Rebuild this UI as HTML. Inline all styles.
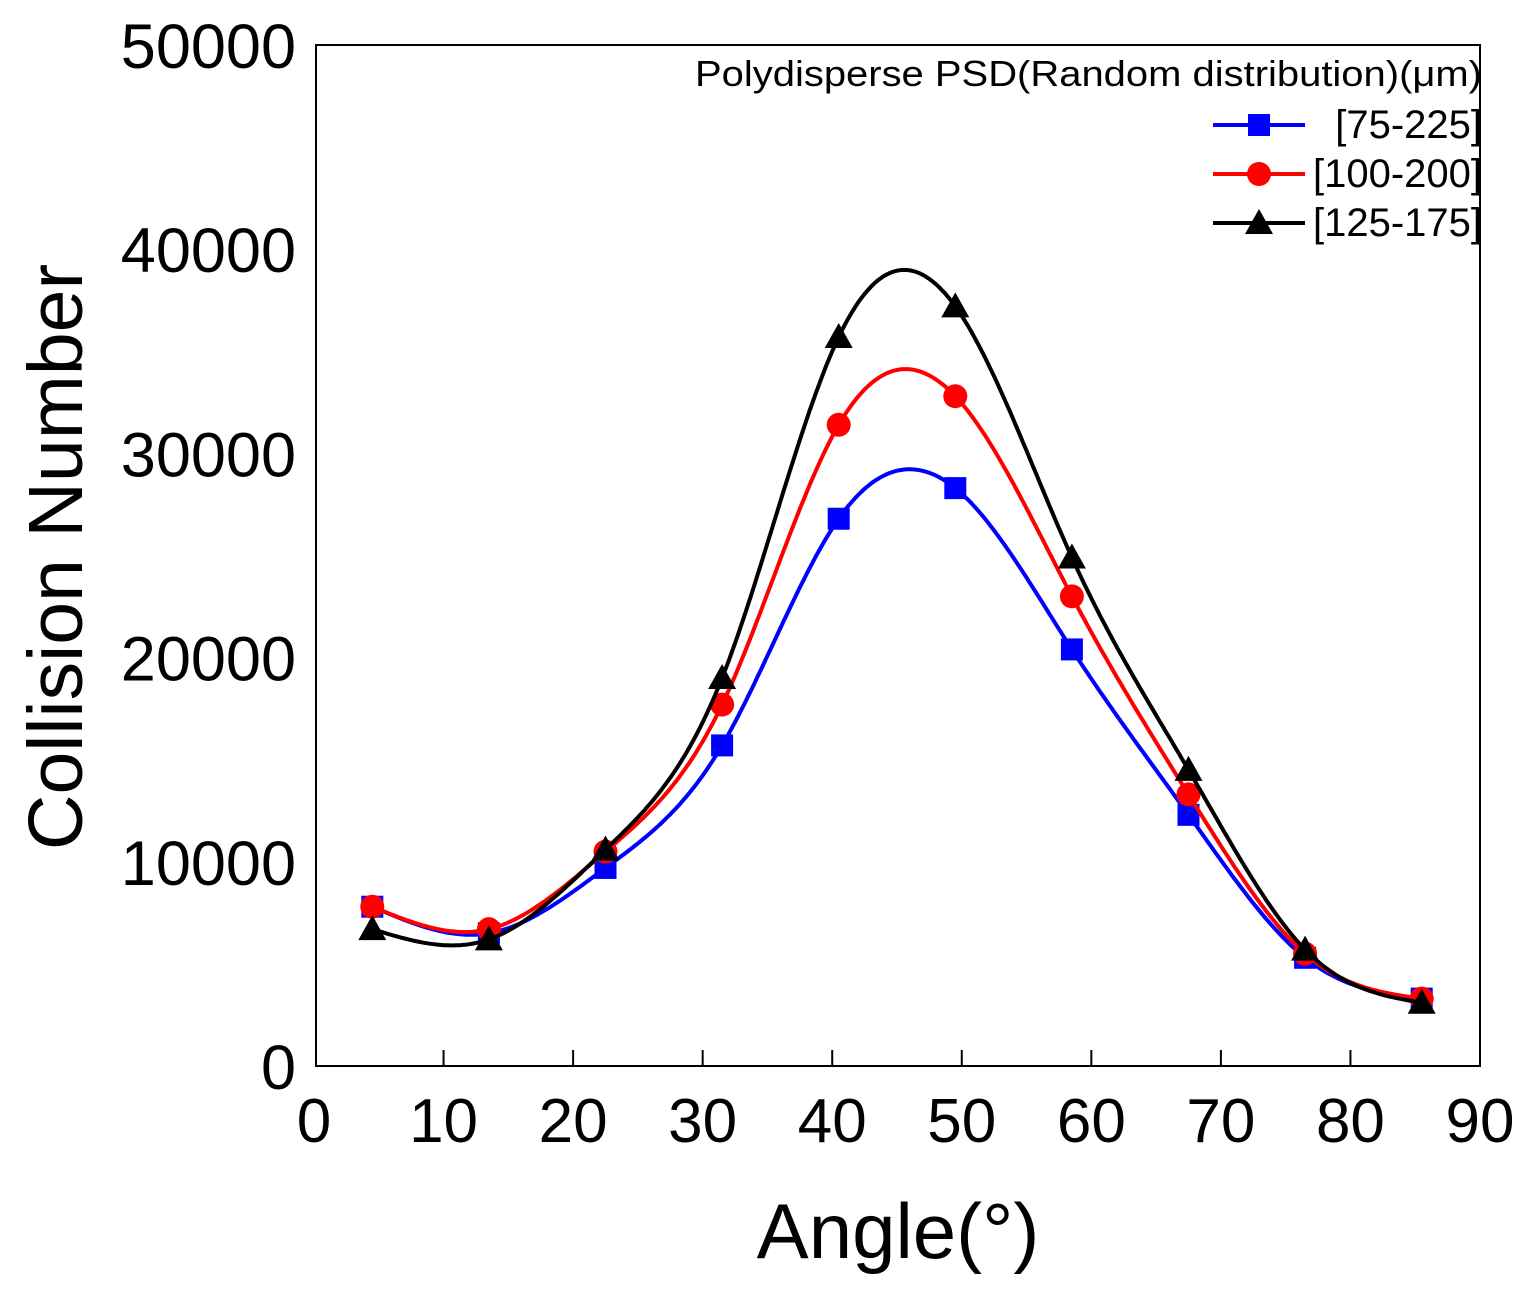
<!DOCTYPE html>
<html><head><meta charset="utf-8"><style>
html,body{margin:0;padding:0;background:#fff;}
svg{display:block;font-family:"Liberation Sans",Arial,sans-serif;}
</style></head><body>
<svg id="chart" width="1533" height="1297" viewBox="0 0 1533 1297">
<rect x="316" y="45" width="1164" height="1021" fill="none" stroke="#000" stroke-width="2"/>
<g id="xticks"></g>
<g id="yticks"></g>
<g id="series"></g>
<text x="82" y="557" font-size="77" text-anchor="middle" transform="rotate(-90 82 557)">Collision Number</text>
<text x="898" y="1258" font-size="78" text-anchor="middle">Angle(°)</text>
<g>
<text x="1482" y="86" font-size="36" text-anchor="end" textLength="787" lengthAdjust="spacingAndGlyphs">Polydisperse PSD(Random distribution)(μm)</text>
<g id="legend-entries"></g>
</g>
</svg>
<script>
const angles=[4.5,13.5,22.5,31.5,40.5,49.5,58.5,67.5,76.5,85.5];
const s75=[7800,6500,9700,15700,26800,28300,20400,12300,5300,3300];
const s100=[7800,6700,10500,17700,31400,32800,23000,13300,5500,3300];
const s125=[6700,6200,10600,19000,35700,37200,24900,14500,5700,3100];
const seriesNames=["[75-225]","[100-200]","[125-175]"];
const xTicks=[0,10,20,30,40,50,60,70,80,90];
const yTicks=[0,10000,20000,30000,40000,50000];
const X=v=>314+v*(1480-314)/90;
const Y=v=>1066-v*(1066-45)/50000;
const NS="http://www.w3.org/2000/svg";
function mk(tag,attrs,parent){const e=document.createElementNS(NS,tag);for(const k in attrs)e.setAttribute(k,attrs[k]);parent.appendChild(e);return e;}
const xg=document.getElementById('xticks'),yg=document.getElementById('yticks');
xTicks.forEach(t=>{
 if(t>0&&t<90){const l=mk('line',{x1:X(t),x2:X(t),y1:1066,y2:1050,stroke:'#000','stroke-width':2},xg);
 }
 const tx=mk('text',{x:X(t),y:1142,'font-size':62,'text-anchor':'middle'},xg);tx.textContent=t;
 
});
yTicks.forEach(t=>{
 const tx=mk('text',{x:296,y:Y(t)+23,'font-size':63,'text-anchor':'end'},yg);tx.textContent=t;
 
});
function spline(xs,ys){const n=xs.length,h=[];
 for(let i=0;i<n-1;i++)h.push(xs[i+1]-xs[i]);
 const al=[0],l=[1],mu=[0],z=[0];
 for(let i=1;i<n-1;i++){al[i]=3/h[i]*(ys[i+1]-ys[i])-3/h[i-1]*(ys[i]-ys[i-1]);}
 for(let i=1;i<n-1;i++){l[i]=2*(xs[i+1]-xs[i-1])-h[i-1]*mu[i-1];mu[i]=h[i]/l[i];z[i]=(al[i]-h[i-1]*z[i-1])/l[i];}
 const c=new Array(n).fill(0),b=[],d=[];
 for(let j=n-2;j>0;j--){c[j]=z[j]-mu[j]*c[j+1];}
 for(let j=0;j<n-1;j++){b[j]=(ys[j+1]-ys[j])/h[j]-h[j]*(c[j+1]+2*c[j])/3;d[j]=(c[j+1]-c[j])/(3*h[j]);}
 return x=>{let j=0;while(j<n-2&&x>xs[j+1])j++;const dx=x-xs[j];return ys[j]+b[j]*dx+c[j]*dx*dx+d[j]*dx*dx*dx;};}
const sg=document.getElementById('series'),lg=document.getElementById('legend-entries');
const cfg=[[s75,'#0000ff','square'],[s100,'#ff0000','circle'],[s125,'#000000','triangle']];
function marker(type,cx,cy,col,parent){let e;
 if(type==='square')e=mk('rect',{x:cx-11,y:cy-11,width:22,height:22,fill:col},parent);
 else if(type==='circle')e=mk('circle',{cx:cx,cy:cy,r:12,fill:col},parent);
 else e=mk('polygon',{points:`${cx},${cy-14} ${cx-14},${cy+11} ${cx+14},${cy+11}`,fill:col},parent);
 return e;}
cfg.forEach(([vals,col,type],k)=>{
 const f=spline(angles,vals);let d='';
 for(let x=angles[0];x<=angles[angles.length-1]+1e-9;x+=0.25){d+=(d?'L':'M')+X(x).toFixed(1)+','+Y(f(x)).toFixed(1);}
 const p=mk('path',{d:d,fill:'none',stroke:col,'stroke-width':4},sg);
 
 angles.forEach((a,i)=>{const m=marker(type,X(a),Y(vals[i]),col,sg);
  });
 const ly=125+k*49;
 const ll=mk('line',{x1:1213,x2:1305,y1:ly,y2:ly,stroke:col,'stroke-width':4},lg);
 
 const lm=marker(type,1259,ly,col,lg);
 
 const lt=mk('text',{x:1482,y:ly+13,'font-size':40,'text-anchor':'end'},lg);lt.textContent=seriesNames[k];
 
});
</script>
</body></html>
